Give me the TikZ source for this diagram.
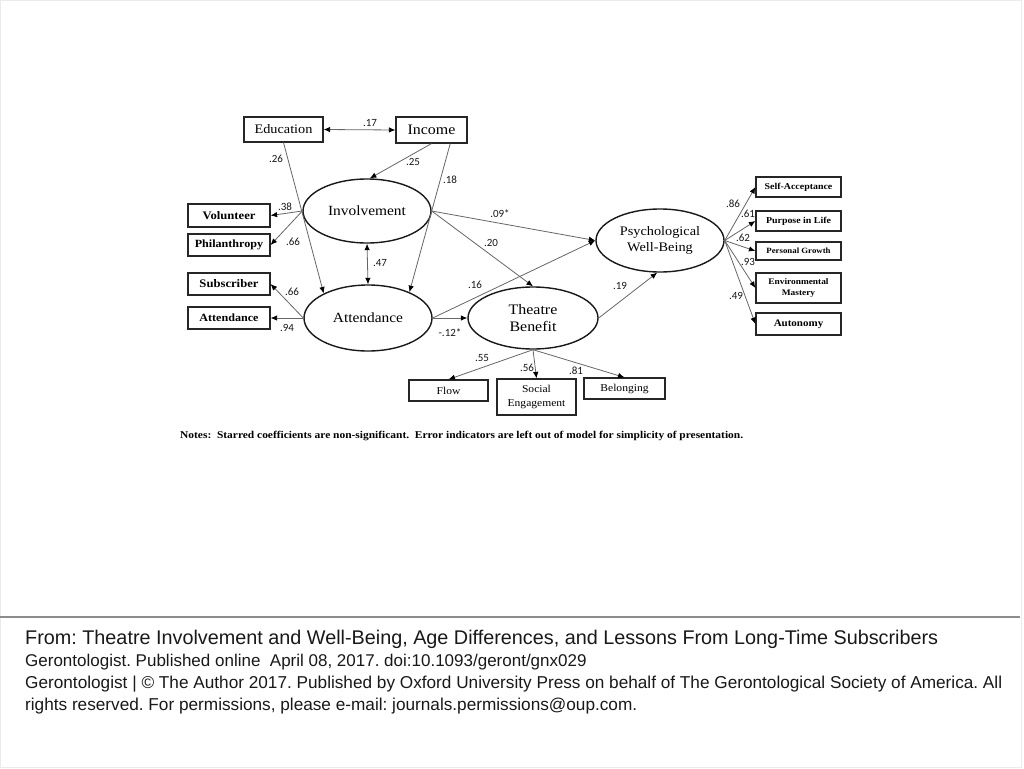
\documentclass[tikz,border=0pt]{standalone}
\usepackage{fontspec}
\setmainfont{Liberation Serif}[FakeStretch=1.1]
\newfontfamily\lblfont{Carlito}
\newfontfamily\ffont{Liberation Sans}
\usetikzlibrary{shapes.geometric,arrows.meta}
\newcommand{\fs}[1]{\fontsize{#1}{#1}\selectfont}
\frenchspacing
\begin{document}
\begin{tikzpicture}[x=1pt,y=-1pt,
 box/.style={draw=black!85,line width=1.2pt,rectangle,inner sep=0pt,align=center},
 lat/.style={draw=black!90,line width=1.4pt,ellipse,inner sep=0pt,align=center},
 coef/.style={font=\lblfont\fs{11},inner sep=0pt,text=black!90},
 tipb/.tip={Latex[length=6.5pt,width=5.5pt,color=black]},
 arr/.style={draw=black!60,line width=0.8pt,-tipb},
 darr/.style={draw=black!60,line width=0.8pt,tipb-tipb},
 foot/.style={font=\ffont\fs{17.2},anchor=base west,inner sep=0pt,text=black!90},
]
\useasboundingbox[fill=white] (0,0) rectangle (1024,768);
\draw[black!8,line width=1pt] (0.5,0.5) rectangle (1021,767.5);
\draw[black!45,line width=2pt] (0,617) -- (1020,617);

% observed top
\node[box,minimum width=79pt,minimum height=25pt,font=\fs{13}] (edu) at (283.5,129.5) {Education};
\node[box,minimum width=71pt,minimum height=26pt,font=\fs{14.5}] (inc) at (431.5,130) {Income};

% latent
\node[lat,minimum width=128pt,minimum height=64pt,font=\fs{14}] (inv) at (367,211) {Involvement};
\node[lat,minimum width=128pt,minimum height=66pt,font=\fs{14}] (att) at (368,318) {Attendance};
\node[lat,minimum width=130pt,minimum height=62pt,font={\fontsize{14.5}{17}\selectfont}] (tb) at (533,318) {Theatre\\Benefit};
\node[lat,minimum width=128pt,minimum height=63pt,font={\fontsize{13}{16}\selectfont}] (pwb) at (660,240.5) {Psychological\\Well-Being};

% left indicators
\node[box,minimum width=82pt,minimum height=23pt,font=\bfseries\fs{11.5}] (vol) at (229,215.5) {Volunteer};
\node[box,minimum width=82pt,minimum height=22pt,font=\bfseries\fs{11}] (phil) at (229,245) {Philanthropy};
\node[box,minimum width=82pt,minimum height=22pt,font=\bfseries\fs{11.5}] (sub) at (229,284) {Subscriber};
\node[box,minimum width=82pt,minimum height=22pt,font=\bfseries\fs{11}] (attb) at (229,318) {Attendance};

% right indicators
\node[box,minimum width=85pt,minimum height=20pt,font=\bfseries\fs{9}] (sa) at (798.5,187) {Self-Acceptance};
\node[box,minimum width=85pt,minimum height=20pt,font=\bfseries\fs{9}] (pl) at (798.5,221) {Purpose in Life};
\node[box,minimum width=85pt,minimum height=18pt,font=\bfseries\fs{8}] (pg) at (798.5,251) {Personal Growth};
\node[box,minimum width=85pt,minimum height=30pt,font={\bfseries\fontsize{8.5}{11.5}\selectfont}] (em) at (798.5,288) {Environmental\\Mastery};
\node[box,minimum width=85pt,minimum height=22pt,font=\bfseries\fs{10}] (au) at (798.5,324) {Autonomy};

% bottom indicators
\node[box,minimum width=79pt,minimum height=21pt,font=\fs{10.5}] (flow) at (448.5,390.5) {Flow};
\node[box,minimum width=79pt,minimum height=36pt,font={\fontsize{10.5}{14}\selectfont}] (soc) at (536.5,397) {Social\\Engagement};
\node[box,minimum width=81pt,minimum height=21pt,font=\fs{10.5}] (bel) at (624.5,388.5) {Belonging};

% connectors
\draw[darr] (edu.east) -- (inc.west);
\draw[arr] (edu.south) -- (att.151);
\draw[arr] (inc.south) -- (inv.85);
\draw[arr] (inc.-36.6) -- (att.32);
\draw[arr] (inv.west) -- (vol.east);
\draw[arr] (inv.west) -- (phil.east);
\draw[arr] (att.west) -- (sub.east);
\draw[arr] (att.west) -- (attb.east);
\draw[darr] (inv.south) -- (att.north);
\draw[arr] (inv.east) -- (pwb.west);
\draw[arr] (inv.east) -- (tb.north);
\draw[arr] (att.east) -- (pwb.west);
\draw[arr] (att.east) -- (tb.west);
\draw[arr] (tb.east) -- (pwb.-95);
\draw[arr] (pwb.east) -- (sa.west);
\draw[arr] (pwb.east) -- (pl.west);
\draw[arr] (pwb.east) -- (pg.west);
\draw[arr] (pwb.east) -- (em.west);
\draw[arr] (pwb.east) -- (au.west);
\draw[arr] (tb.south) -- (flow.north);
\draw[arr] (tb.south) -- (soc.north);
\draw[arr] (tb.south) -- (bel.north);

% coefficients
\node[coef] (c1) at (370,123) {.17};
\node[coef] (c2) at (276,159) {.26};
\node[coef] (c3) at (413,162) {.25};
\node[coef] (c4) at (450,180) {.18};
\node[coef] (c5) at (285,207) {.38};
\node[coef] (c6) at (293,242) {.66};
\node[coef] (c7) at (292,292) {.66};
\node[coef] (c8) at (287,328) {.94};
\node[coef] (c9) at (380,263) {.47};
\node[coef] (c10) at (500,214) {.09*};
\node[coef] (c11) at (491,243) {.20};
\node[coef] (c12) at (475,285) {.16};
\node[coef] (c13) at (450,333) {-.12*};
\node[coef] (c14) at (620,286) {.19};
\node[coef] (c15) at (733,204) {.86};
\node[coef] (c16) at (748,214) {.61};
\node[coef] (c17) at (743,238) {.62};
\node[coef] (c18) at (748,262) {.93};
\node[coef] (c19) at (736,296) {.49};
\node[coef] (c20) at (482,358) {.55};
\node[coef] (c21) at (527,368) {.56};
\node[coef] (c22) at (576,371) {.81};

% notes
\node[anchor=west,inner sep=0pt,font=\bfseries\fs{10.4}] (notes) at (180,436) {Notes:\ \ Starred coefficients are non-significant.\ \ Error indicators are left out of model for simplicity of presentation.};

% footer
\node[foot,font=\ffont\fs{19.8}] (f1) at (25,644) {From: Theatre Involvement and Well-Being, Age Differences, and Lessons From Long-Time Subscribers};
\node[foot,font=\ffont\fs{17}] (f2) at (25,666) {Gerontologist. Published online\ \ April 08, 2017. doi:10.1093/geront/gnx029};
\node[foot] (f3) at (25,688) {Gerontologist | © The Author 2017. Published by Oxford University Press on behalf of The Gerontological Society of America. All};
\node[foot] (f4) at (25,710) {rights reserved. For permissions, please e-mail: journals.permissions@oup.com.};
\end{tikzpicture}
\end{document}
